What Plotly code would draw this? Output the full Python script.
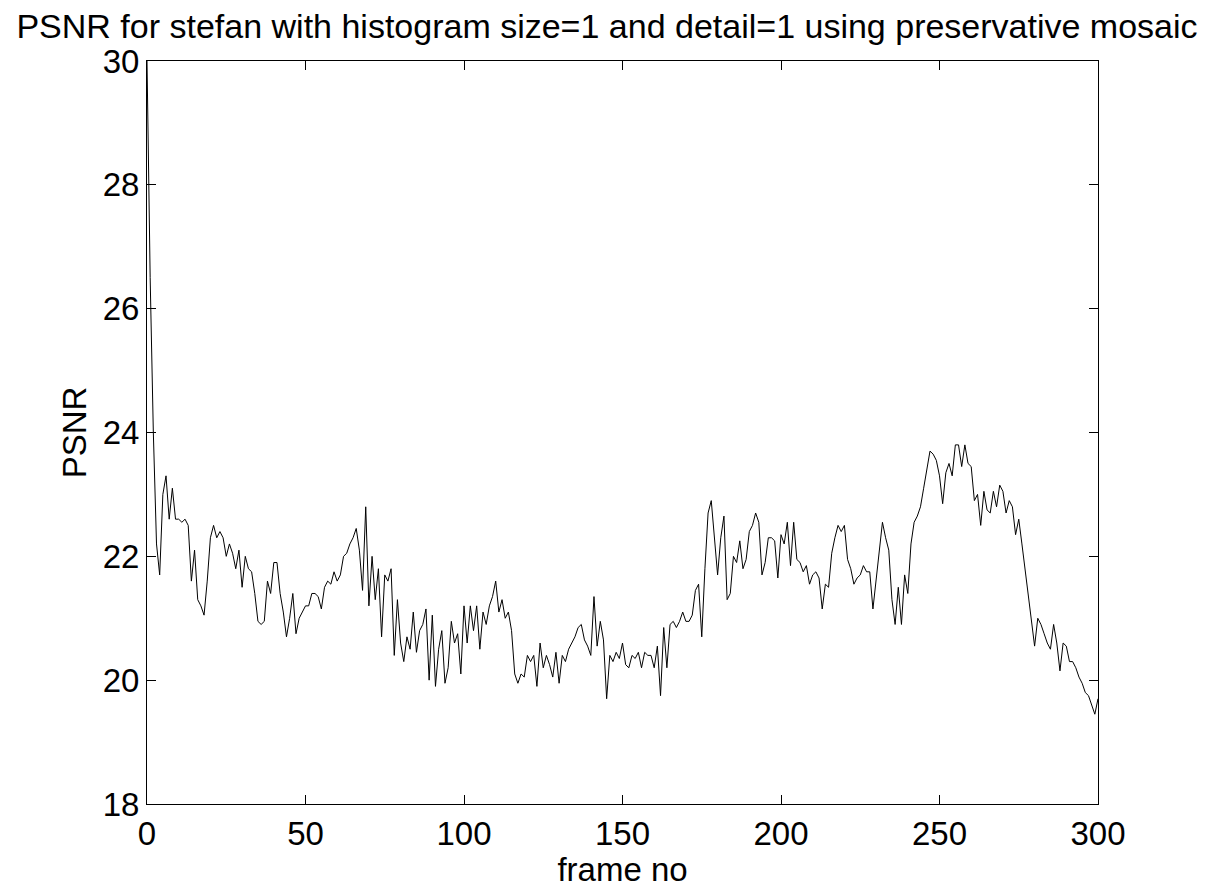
import plotly.graph_objects as go

# PSNR per frame, frames 0..300
psnr = [
    30.0, 26.5, 24.0, 22.2, 21.7, 23.0, 23.3, 22.6, 23.1, 22.6,
    22.6, 22.55, 22.6, 22.5, 21.6, 22.1, 21.3, 21.2, 21.05, 21.6,
    22.3, 22.5, 22.3, 22.4, 22.3, 22.0, 22.2, 22.05, 21.8, 22.1,
    21.5, 22.0, 21.8, 21.75, 21.4, 20.95, 20.9, 20.95, 21.6, 21.4,
    21.9, 21.9, 21.4, 21.1, 20.7, 21.0, 21.4, 20.75, 21.0, 21.1,
    21.2, 21.2, 21.4, 21.4, 21.35, 21.15, 21.5, 21.6, 21.55, 21.75,
    21.6, 21.7, 22.0, 22.05, 22.2, 22.3, 22.45, 22.1, 21.45, 22.8,
    21.2, 22.0, 21.3, 21.8, 20.7, 21.7, 21.6, 21.8, 20.4, 21.3,
    20.6, 20.3, 20.7, 20.5, 21.1, 20.45, 20.8, 20.9, 21.15, 20.0,
    21.05, 19.9, 20.5, 20.8, 19.95, 20.2, 20.95, 20.6, 20.75, 20.1,
    21.2, 20.6, 21.2, 20.8, 21.2, 20.5, 21.1, 20.9, 21.2, 21.35,
    21.6, 21.1, 21.3, 21.0, 21.1, 20.8, 20.1, 19.95, 20.1, 20.05,
    20.4, 20.3, 20.4, 19.9, 20.6, 20.2, 20.4, 20.25, 20.05, 20.45,
    19.95, 20.4, 20.3, 20.5, 20.6, 20.7, 20.85, 20.9, 20.65, 20.55,
    20.4, 21.35, 20.55, 20.95, 20.65, 19.7, 20.4, 20.3, 20.45, 20.35,
    20.6, 20.25, 20.2, 20.4, 20.35, 20.45, 20.2, 20.45, 20.4, 20.4,
    20.2, 20.55, 19.75, 20.85, 20.2, 20.9, 20.95, 20.85, 20.95, 21.1,
    20.95, 20.95, 21.05, 21.45, 21.55, 20.7, 21.8, 22.7, 22.9, 22.3,
    21.7, 22.3, 22.65, 21.3, 21.4, 22.0, 21.9, 22.25, 21.8, 21.95,
    22.4, 22.5, 22.7, 22.55, 21.7, 21.9, 22.3, 22.3, 22.25, 21.65,
    22.35, 22.2, 22.55, 21.85, 22.55, 21.95, 21.9, 21.75, 21.85, 21.55,
    21.7, 21.75, 21.65, 21.15, 21.55, 21.5, 22.05, 22.3, 22.5, 22.4,
    22.5, 21.95, 21.8, 21.55, 21.65, 21.7, 21.85, 21.75, 21.75, 21.15,
    21.65, 22.05, 22.55, 22.3, 22.1, 21.3, 20.9, 21.5, 20.9, 21.7,
    21.4, 22.2, 22.55, 22.65, 22.8, 23.1, 23.4, 23.7, 23.65, 23.55,
    23.3, 22.85, 23.35, 23.5, 23.3, 23.8, 23.8, 23.45, 23.8, 23.5,
    23.45, 22.9, 23.0, 22.5, 23.05, 22.75, 22.7, 23.05, 22.8, 23.15,
    23.05, 22.7, 22.9, 22.8, 22.35, 22.6, 22.2, 21.8, 21.4, 21.0,
    20.55, 21.0, 20.9, 20.75, 20.6, 20.5, 20.9, 20.6, 20.15, 20.6,
    20.55, 20.3, 20.3, 20.2, 20.05, 19.95, 19.8, 19.75, 19.6, 19.45,
    19.7,
]
frames = list(range(len(psnr)))

x_ticks = [0, 50, 100, 150, 200, 250, 300]
y_ticks = [18, 20, 22, 24, 26, 28, 30]

FONT = "Liberation Sans, Arial, Helvetica, sans-serif"
SIZE = 33

fig = go.Figure(
    go.Scatter(
        x=frames, y=psnr, mode="lines",
        line=dict(color="black", width=1),
        hoverinfo="x+y",
    )
)

axis_common = dict(
    showgrid=False, zeroline=False, automargin=False,
    showline=True, linecolor="black", linewidth=1, mirror="ticks",
    ticks="inside", ticklen=9, tickwidth=1, tickcolor="black",
    tickfont=dict(family=FONT, size=SIZE, color="black"),
)

fig.update_xaxes(
    range=[0, 300], tickvals=x_ticks, ticktext=[str(v) for v in x_ticks],
    title=dict(text="frame no", font=dict(family=FONT, size=SIZE, color="black"), standoff=2),
    **axis_common,
)
fig.update_yaxes(
    range=[18, 30], tickvals=y_ticks, ticktext=[str(v) for v in y_ticks],
    title=dict(text="PSNR", font=dict(family=FONT, size=SIZE, color="black"), standoff=6),
    **axis_common,
)

fig.update_layout(
    width=1214, height=888,
    margin=dict(l=147, r=116, t=61, b=84),
    paper_bgcolor="white", plot_bgcolor="white",
    showlegend=False,
    title=dict(
        text="PSNR for stefan with histogram size=1 and detail=1 using preservative mosaic",
        font=dict(family=FONT, size=34, color="black"),
        x=0.5, xanchor="center", y=0.971, yanchor="middle",
    ),
)

fig.write_html("out.html")
